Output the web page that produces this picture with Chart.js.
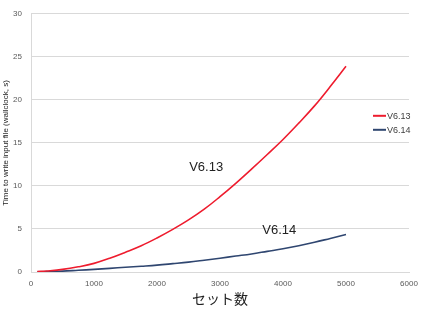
<!DOCTYPE html>
<html><head><meta charset="utf-8">
<script src="https://cdn.jsdelivr.net/npm/chart.js@4/dist/chart.umd.min.js"></script>
<style>html,body{margin:0;padding:0;background:#fff}#wrap{width:423px;height:310px}</style>
</head><body><div id="wrap"><canvas id="c" width="423" height="310"></canvas></div>
<script>
const setCounts = [100,250,500,750,1000,1250,1500,1750,2000,2250,2500,2750,3000,3250,3500,3750,4000,4250,4500,4750,5000];
const v613 = [0.05,0.12,0.3,0.6,1.0,1.6,2.3,3.05,3.95,4.95,6.05,7.3,8.75,10.3,11.95,13.65,15.4,17.3,19.3,21.55,23.9];
const v614 = [0.0,0.05,0.1,0.2,0.3,0.42,0.55,0.67,0.8,0.97,1.15,1.37,1.6,1.85,2.1,2.4,2.7,3.05,3.45,3.9,4.35];
const xTicks = [0,1000,2000,3000,4000,5000,6000];
const seriesNames = ['V6.13','V6.14'];
const seriesColors = ['#ee1c2e','#2f4670'];
const xTitle = 'セット数';
const yTitle = 'Time to write input file (wallclock, s)';
const notes = [{text:'V6.13', x:2780, y:12.1},{text:'V6.14', x:3940, y:4.8}];

const toPts = arr => setCounts.map((n,i)=>({x:n,y:arr[i]}));

const overlay = {
  id:'overlay',
  afterDatasetsDraw(chart){
    const {ctx, chartArea:a, scales:{x,y}} = chart;
    ctx.save();
    ctx.fillStyle='#222';
    ctx.font='13px "Liberation Sans", Arial, sans-serif';
    ctx.textAlign='center'; ctx.textBaseline='middle';
    notes.forEach(n=>ctx.fillText(n.text, x.getPixelForValue(n.x), y.getPixelForValue(n.y)));
    ctx.font='9px "Liberation Sans", Arial, sans-serif';
    ctx.textAlign='left';
    chart.data.datasets.forEach((d,i)=>{
      const ly = a.top + 102 + i*14;
      const lx = a.right - 36;
      ctx.strokeStyle=d.borderColor; ctx.lineWidth=2;
      ctx.beginPath(); ctx.moveTo(lx,ly); ctx.lineTo(lx+13,ly); ctx.stroke();
      ctx.fillStyle='#404040';
      ctx.fillText(d.label, lx+14, ly+0.5);
    });
    ctx.restore();
  }
};

new Chart(document.getElementById('c'), {
  type:'line',
  data:{datasets:[
    {label:seriesNames[0], data:toPts(v613), borderColor:seriesColors[0], borderWidth:1.6, pointRadius:0, tension:0.4, fill:false},
    {label:seriesNames[1], data:toPts(v614), borderColor:seriesColors[1], borderWidth:1.6, pointRadius:0, tension:0.4, fill:false}
  ]},
  options:{
    responsive:false, animation:false,
    layout:{padding:{top:10,right:14,left:0,bottom:0}},
    plugins:{legend:{display:false}, tooltip:{enabled:false}},
    scales:{
      x:{type:'linear', min:0, max:6000,
        afterBuildTicks(s){ s.ticks = xTicks.map(v=>({value:v})); },
        ticks:{callback:v=>String(v), color:'#595959', font:{size:8, family:'"Liberation Sans", Arial, sans-serif'}, padding:7, maxRotation:0},
        grid:{display:false, drawTicks:false},
        border:{display:true, color:'#d9d9d9'},
        title:{display:true, text:xTitle, color:'#222', font:{size:14, family:'"Noto Sans CJK JP", sans-serif'}, padding:{top:0,bottom:3}},
        afterFit(s){ s.height = 38; s.paddingRight = 0; }
      },
      y:{min:0, max:30,
        ticks:{stepSize:5, color:'#595959', font:{size:8, family:'"Liberation Sans", Arial, sans-serif'}, padding:9},
        grid:{color:'#d9d9d9', drawTicks:false},
        border:{display:true, color:'#d9d9d9'},
        title:{display:true, text:yTitle, color:'#222', font:{size:8, family:'"Liberation Sans", Arial, sans-serif'}, padding:{top:1,bottom:0}},
        afterFit(s){ s.width = 31; }
      }
    }
  },
  plugins:[overlay]
});
</script></body></html>
